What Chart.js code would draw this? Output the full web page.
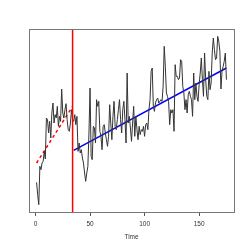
<!DOCTYPE html>
<html>
<head>
<meta charset="utf-8">
<script src="https://cdn.jsdelivr.net/npm/chart.js@4/dist/chart.umd.min.js"></script>
<style>
  html, body { margin: 0; padding: 0; background: #fff; }
  #wrap { width: 249px; height: 249px; }
</style>
</head>
<body>
<div id="wrap"><canvas id="chart" width="249" height="249"></canvas></div>
<script>
// observed series (arbitrary units, no y axis shown)
const series = [
  89, 52, 22, 137, 127, 147, 152, 182, 159, 282,
  277, 237, 272, 222, 297, 327, 267, 292, 282, 317,
  257, 287, 272, 369, 297, 282, 307, 325, 277, 247,
  242, 267, 307, 277, 272, 292, 262, 287, 182, 207,
  177, 187, 162, 147, 117, 92, 117, 137, 237, 372,
  167, 157, 257, 252, 207, 337, 317, 332, 242, 227,
  187, 257, 262, 237, 217, 197, 227, 322, 267, 217,
  287, 332, 257, 247, 277, 307, 337, 277, 237, 307,
  332, 277, 207, 417, 267, 287, 252, 212, 267, 317,
  227, 287, 247, 217, 257, 232, 247, 242, 257, 227,
  262, 267, 247, 307, 337, 422, 432, 317, 302, 327,
  337, 342, 327, 332, 337, 332, 377, 497, 437, 357,
  347, 332, 262, 307, 297, 307, 242, 442, 407, 407,
  397, 402, 457, 452, 377, 357, 307, 337, 297, 352,
  362, 347, 337, 287, 417, 337, 387, 347, 332, 382,
  417, 462, 397, 347, 477, 397, 347, 337, 422, 367,
  387, 477, 522, 487, 457, 462, 527, 512, 482, 369,
  422, 437, 452, 477, 397
];
const time = series.map((_, i) => i + 1);

// break point and fitted segments
const breakTime = 34;
const fitBefore = [{ x: 1, y: 147 }, { x: 34, y: 317 }];
const fitAfter = [{ x: 35, y: 185 }, { x: 175, y: 432 }];

const xTicks = [0, 50, 100, 150];

// box around the plot + vertical break line
const boxPlugin = {
  id: "box",
  afterDatasetsDraw(chart) {
    const { ctx, chartArea: a, scales } = chart;
    ctx.save();
    const bx = scales.x.getPixelForValue(breakTime);
    ctx.strokeStyle = "#ff0000";
    ctx.lineWidth = 1.5;
    ctx.beginPath();
    ctx.moveTo(bx, a.top);
    ctx.lineTo(bx, a.bottom);
    ctx.stroke();
    ctx.strokeStyle = "#777";
    ctx.lineWidth = 1;
    ctx.strokeRect(Math.round(a.left) + 0.5, Math.round(a.top) + 0.5,
      Math.round(a.right - a.left), Math.round(a.bottom - a.top));
    ctx.restore();
  }
};

new Chart(document.getElementById("chart"), {
  type: "line",
  data: {
    datasets: [
      {
        data: time.map((t, i) => ({ x: t, y: series[i] })),
        borderColor: "#333",
        borderWidth: 1,
        pointRadius: 0,
        tension: 0
      },
      {
        data: fitBefore,
        borderColor: "#ff0000",
        borderWidth: 1.5,
        borderDash: [3, 3],
        pointRadius: 0
      },
      {
        data: fitAfter,
        borderColor: "#0000ff",
        borderWidth: 1.5,
        pointRadius: 0
      }
    ]
  },
  options: {
    responsive: false,
    animation: false,
    events: [],
    layout: { padding: { left: 29, right: 15, top: 29, bottom: 0 } },
    plugins: { legend: { display: false }, tooltip: { enabled: false } },
    scales: {
      x: {
        type: "linear",
        min: -5.96,
        max: 181.96,
        afterBuildTicks: (scale) => { scale.ticks = xTicks.map(v => ({ value: v })) },
        afterFit: (scale) => { scale.height = 37 },
        grid: { display: true, drawOnChartArea: false, tickLength: 4, color: "#555" },
        border: { display: false },
        ticks: {
          color: "#333",
          padding: 4,
          maxRotation: 0,
          font: { family: "Liberation Sans, Arial, sans-serif", size: 6.5 }
        },
        title: {
          display: true,
          text: "Time",
          color: "#333",
          padding: { top: 2, bottom: 8 },
          font: { family: "Liberation Sans, Arial, sans-serif", size: 6.5 }
        }
      },
      y: {
        display: false,
        min: 0,
        max: 549
      }
    }
  },
  plugins: [boxPlugin]
});
</script>
</body>
</html>
